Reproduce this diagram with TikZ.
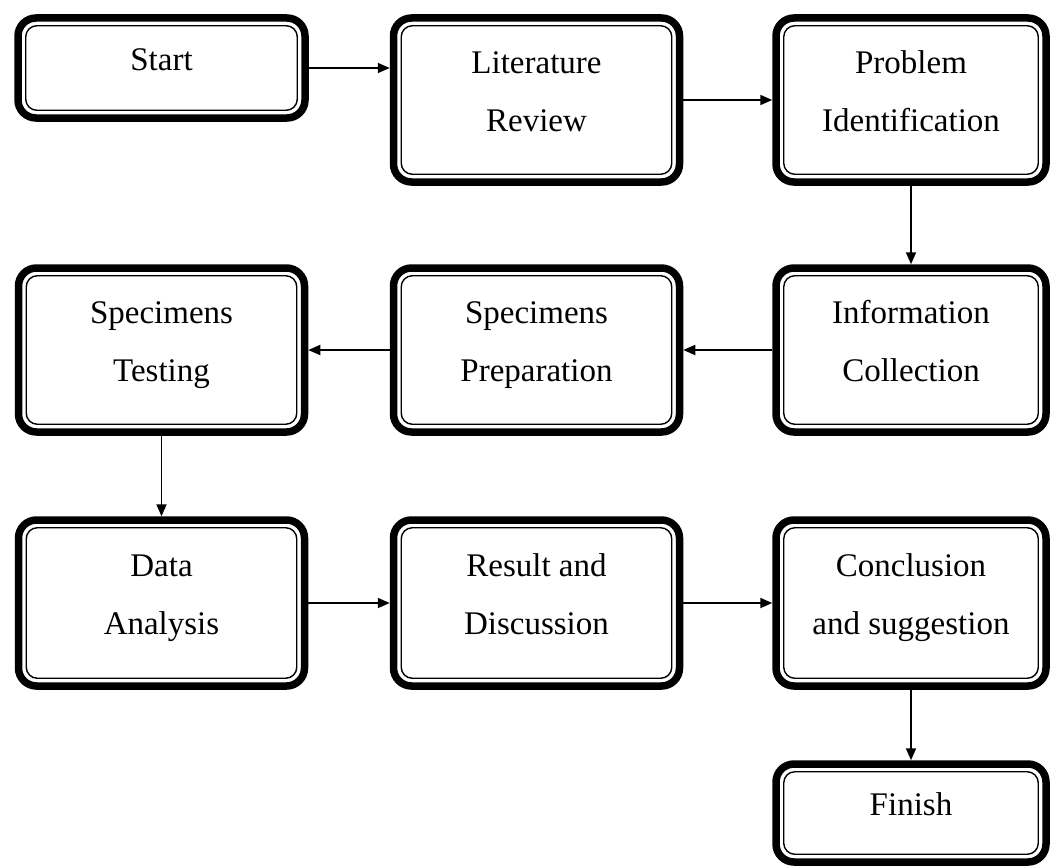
\documentclass[tikz,border=0pt]{standalone}
\usepackage{fontspec}
\setmainfont{Liberation Serif}
\usetikzlibrary{arrows.meta}
\newcommand\twoln[2]{\strut#1\\\strut#2\rule[-35.4pt]{0pt}{0pt}}
\newcommand\oneln[1]{\strut#1\rule[-35.4pt]{0pt}{0pt}}
\begin{document}
\begin{tikzpicture}[x=1pt,y=-1pt,
 box/.style={draw, line width=7.5pt, rounded corners=18pt, inner sep=0pt, outer sep=3.75pt,
   align=center, font=\fontsize{33}{58}\selectfont},
 wide/.style={box, minimum width=286pt, minimum height=164pt},
 narrow/.style={box, minimum width=270pt, minimum height=164pt},
 inner/.style={line width=1.4pt, rounded corners=11pt},
 arr/.style={line width=1.8pt, -{Triangle[length=12pt,width=10pt]}}]
\useasboundingbox (0,0) rectangle (1051,867);
\node[box, minimum width=287pt, minimum height=100pt] (start) at (161.5,68) {\oneln{Start}};
\node[wide] (lit) at (536.5,100) {\twoln{Literature}{Review}};
\node[narrow] (prob) at (911,100) {\twoln{Problem}{Identification}};
\node[wide] (test) at (161.5,350) {\twoln{Specimens}{Testing}};
\node[wide] (prep) at (536.5,350) {\twoln{Specimens}{Preparation}};
\node[narrow] (info) at (911,350) {\twoln{Information}{Collection}};
\node[wide, minimum height=166pt] (data) at (161.5,603) {\twoln{Data}{Analysis}};
\node[wide, minimum height=166pt] (res) at (536.5,603) {\twoln{Result and}{Discussion}};
\node[narrow, minimum height=166pt] (conc) at (911,603) {\twoln{Conclusion}{and suggestion}};
\node[box, minimum width=270pt, minimum height=98pt] (fin) at (911,813) {\oneln{Finish}};
\foreach \n in {start,lit,prob,test,prep,info,data,res,conc,fin}
  \draw[inner] ([shift={(11.5,11.5)}]\n.north west) rectangle ([shift={(-11.5,-11.5)}]\n.south east);
\draw[arr] (start.east) -- (start.east -| lit.west);
\draw[arr] (lit) -- (prob);
\draw[arr] (prob) -- (info);
\draw[arr] (info) -- (prep);
\draw[arr] (prep) -- (test);
\draw[arr] (test) -- (data);
\draw[arr] (data) -- (res);
\draw[arr] (res) -- (conc);
\draw[arr] (conc) -- (fin);
\end{tikzpicture}
\end{document}
